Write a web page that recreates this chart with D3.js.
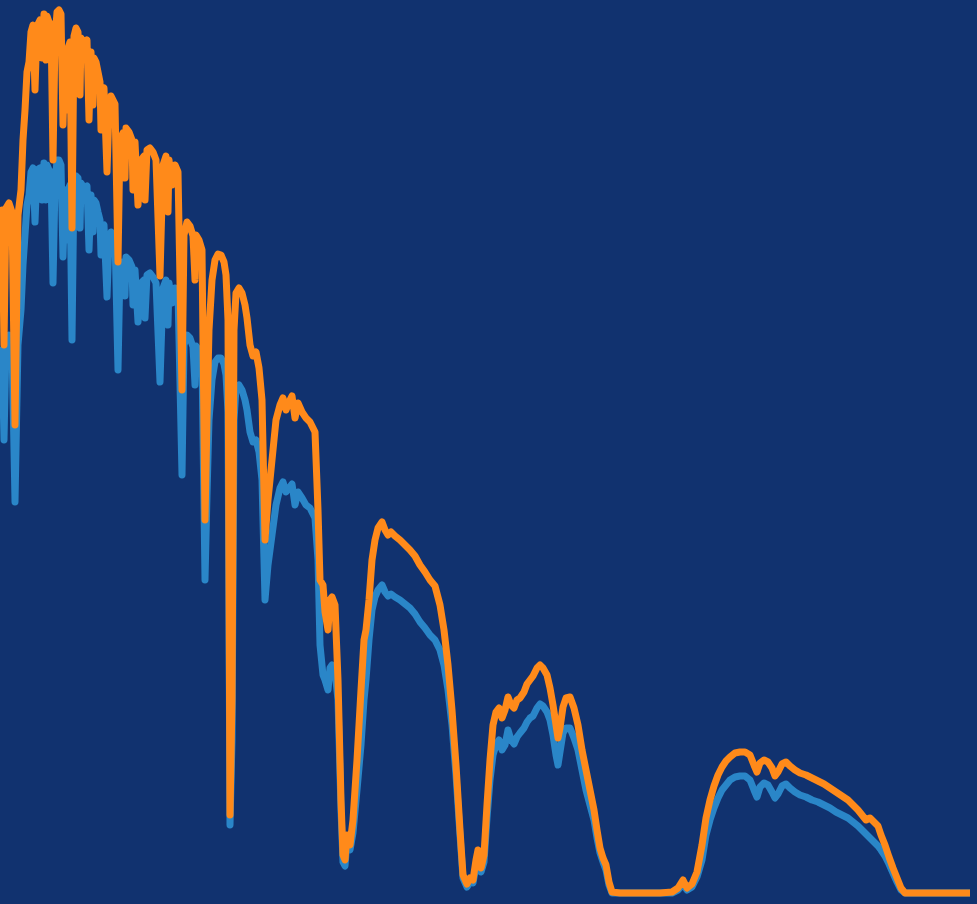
<!DOCTYPE html>
<html>
<head>
<meta charset="utf-8">
<script src="https://cdn.jsdelivr.net/npm/d3@7"></script>
<style>
  html, body { margin: 0; padding: 0; background: #11326f; overflow: hidden; }
  svg { display: block; }
</style>
</head>
<body>
<svg id="chart" width="977" height="904"></svg>
<script>
// Solar spectral irradiance, mW·m⁻²·nm⁻¹, sampled on a shared wavelength grid (nm)
const wavelength = [
  300, 304, 308, 312, 318, 324, 330, 336, 342, 346, 350, 354, 358, 362, 366, 370, 374, 380, 384, 388,
  392, 394, 398, 402, 406, 410, 414, 418, 422, 426, 430, 432, 436, 440, 444, 448, 452, 456, 460, 462, 468, 474, 478,
  482, 486, 488, 492, 496, 500, 502, 504, 508, 514, 518, 522, 526, 530, 536, 540, 546, 550, 552, 558, 564, 566, 570, 576,
  582, 588, 590, 594, 600, 606, 612, 620, 626, 632, 636, 638, 644, 650, 656, 664, 668, 674, 680, 686, 690, 692, 698,
  704, 710, 714, 718, 724, 730, 736, 742, 748, 752, 756, 760, 764, 768, 772, 778, 784, 790, 794, 800,
  806, 812, 818, 824, 830, 836, 844, 852, 860, 866, 872, 878, 884, 890, 896, 904, 912, 920, 930, 936,
  940, 946, 950, 956, 960, 964, 970, 976, 982, 986, 990, 994, 1000, 1006, 1014, 1022, 1028, 1032, 1038, 1044,
  1050, 1056, 1064, 1070, 1076, 1082, 1090, 1100, 1110, 1120, 1130, 1140, 1150, 1160, 1170, 1180, 1188, 1196, 1204, 1212,
  1220, 1226, 1234, 1240, 1246, 1252, 1256, 1262, 1268, 1274, 1280, 1286, 1292, 1298, 1304, 1310, 1316, 1322, 1328, 1334,
  1340, 1348, 1354, 1360, 1366, 1374, 1380, 1386, 1394, 1400, 1406, 1412, 1416, 1420, 1426, 1432, 1440, 1448, 1456, 1464,
  1472, 1480, 1488, 1494, 1500, 1506, 1512, 1518, 1524, 1540, 1580, 1620, 1644, 1656, 1666, 1674, 1684, 1694, 1704, 1712,
  1720, 1728, 1736, 1744, 1752, 1760, 1770, 1780, 1790, 1800, 1808, 1814, 1820, 1828, 1836, 1844, 1850, 1856, 1864, 1872,
  1880, 1890, 1900, 1912, 1924, 1936, 1948, 1960, 1972, 1984, 1996, 2006, 2016, 2024, 2032, 2040, 2048, 2056, 2062, 2070,
  2078, 2086, 2094, 2102, 2110, 2160, 2200, 2240
];

// Top of atmosphere
const irradianceSpace = [
  1322, 1366, 1096, 1370, 1380, 1362, 936, 1356, 1406, 1506, 1566, 1642, 1662, 1722, 1736, 1606, 1734, 1746, 1670, 1758,
  1666, 1754, 1742, 1738, 1466, 1706, 1762, 1766, 1758, 1536, 1686, 1566, 1690, 1702, 1330, 1714, 1730, 1722, 1596, 1710, 1696, 1706, 1546,
  1682, 1576, 1670, 1662, 1642, 1622, 1526, 1606, 1610, 1442, 1566, 1594, 1586, 1578, 1262, 1506, 1520, 1430, 1530, 1522, 1506, 1406, 1502, 1376,
  1466, 1474, 1386, 1486, 1490, 1482, 1466, 1234, 1456, 1474, 1362, 1466, 1416, 1456, 1442, 1006, 1316, 1342, 1334, 1314, 1226, 1316, 1306,
  1286, 746, 946, 1126, 1226, 1266, 1278, 1276, 1262, 1236, 1146, 156, 386, 1126, 1200, 1210, 1200, 1176, 1150, 1096,
  1074, 1082, 1050, 986, 706, 786, 866, 946, 976, 990, 966, 982, 994, 950, 980, 962, 950, 942, 922, 766,
  626, 616, 562, 526, 586, 592, 576, 426, 186, 76, 66, 116, 96, 146, 266, 406, 506, 526, 586, 666,
  706, 730, 742, 726, 716, 722, 714, 706, 696, 686, 674, 656, 642, 626, 614, 576, 526, 456, 366, 256,
  126, 36, 18, 30, 26, 66, 86, 50, 76, 176, 266, 336, 362, 370, 350, 366, 392, 376, 370, 386,
  390, 402, 418, 426, 434, 450, 456, 450, 436, 410, 376, 336, 310, 330, 372, 390, 392, 370, 336, 286,
  246, 206, 166, 126, 90, 70, 56, 22, 2, 0, 0, 0, 2, 10, 26, 10, 18, 42, 96, 150,
  186, 214, 236, 252, 264, 272, 280, 282, 282, 276, 256, 242, 260, 266, 262, 250, 234, 242, 258, 262,
  254, 246, 240, 236, 230, 224, 218, 210, 202, 194, 186, 176, 166, 156, 146, 150, 142, 134, 116, 96,
  72, 50, 30, 10, 0, 0, 0, 0
];

// At sea level
const irradianceGround = [
  1066, 1086, 906, 1096, 1116, 1096, 782, 1096, 1166, 1256, 1316, 1376, 1396, 1442, 1450, 1342, 1446, 1450, 1386, 1460,
  1386, 1456, 1446, 1442, 1220, 1416, 1466, 1466, 1456, 1272, 1406, 1306, 1406, 1416, 1106, 1426, 1434, 1430, 1330, 1420, 1410, 1414, 1286,
  1396, 1322, 1386, 1380, 1362, 1346, 1276, 1334, 1336, 1192, 1306, 1322, 1316, 1310, 1046, 1250, 1262, 1194, 1272, 1266, 1252, 1176, 1246, 1142,
  1220, 1226, 1150, 1236, 1240, 1232, 1220, 1022, 1210, 1226, 1136, 1220, 1180, 1210, 1200, 836, 1096, 1116, 1110, 1092, 1016, 1094, 1086,
  1066, 626, 796, 946, 1026, 1062, 1070, 1070, 1058, 1036, 962, 136, 306, 946, 1010, 1016, 1006, 986, 966, 922,
  902, 906, 882, 826, 586, 656, 716, 776, 810, 822, 802, 810, 818, 776, 802, 790, 776, 770, 750, 666,
  496, 436, 426, 406, 450, 456, 442, 386, 166, 62, 54, 106, 86, 120, 206, 296, 386, 426, 506, 566,
  592, 606, 616, 602, 594, 598, 592, 586, 578, 570, 558, 542, 530, 516, 506, 486, 456, 406, 336, 236,
  116, 30, 12, 22, 20, 54, 70, 42, 62, 150, 226, 276, 296, 306, 286, 296, 326, 306, 298, 312,
  320, 330, 342, 350, 354, 370, 378, 374, 362, 346, 316, 276, 256, 282, 320, 330, 330, 310, 286, 246,
  206, 176, 146, 110, 80, 62, 46, 16, 0, 0, 0, 0, 0, 6, 18, 6, 12, 32, 66, 116,
  146, 170, 190, 206, 216, 226, 232, 234, 234, 226, 206, 192, 212, 220, 216, 202, 190, 198, 214, 218,
  210, 202, 196, 192, 186, 182, 176, 170, 162, 156, 150, 142, 134, 126, 118, 110, 102, 94, 86, 74,
  58, 40, 22, 6, 0, 0, 0, 0
];

const seriesColors = { ground: "#2a86c8", space: "#ff8a1a" };

const svg = d3.select("#chart");
const width = +svg.attr("width");

const x = d3.scaleLinear().domain([300, 2254]).range([0, width]);
const y = d3.scaleLinear().domain([0, 1800]).range([893, -7]);

const line = d3.line()
  .x(d => x(d[0]))
  .y(d => y(d[1]))
  .curve(d3.curveLinear);

const groundPts = wavelength.map((w, i) => [w, irradianceGround[i]]);
const spacePts = wavelength.map((w, i) => [w, irradianceSpace[i]]);

svg.append("rect")
  .attr("width", width)
  .attr("height", +svg.attr("height"))
  .attr("fill", "#11326f");

svg.append("path")
  .datum(groundPts)
  .attr("d", line)
  .attr("fill", "none")
  .attr("stroke", seriesColors.ground)
  .attr("stroke-width", 7)
  .attr("stroke-linejoin", "round");

svg.append("path")
  .datum(spacePts)
  .attr("d", line)
  .attr("fill", "none")
  .attr("stroke", seriesColors.space)
  .attr("stroke-width", 7)
  .attr("stroke-linejoin", "round");
</script>
</body>
</html>
